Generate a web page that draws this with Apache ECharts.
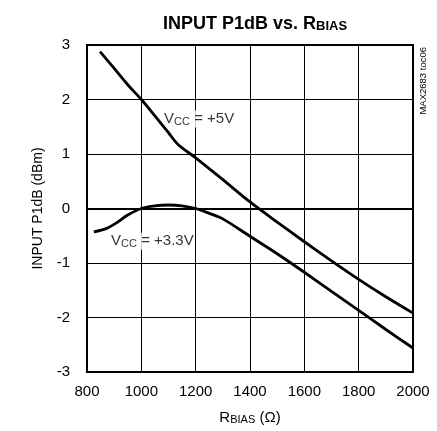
<!DOCTYPE html>
<html><head><meta charset="utf-8">
<script src="https://cdn.jsdelivr.net/npm/echarts@6/dist/echarts.min.js"></script>
<style>html,body{margin:0;padding:0;background:#fff}#c{width:437px;height:431px}</style>
</head><body><div id="c"></div>
<script>
const FONT = "'Liberation Sans',Arial,sans-serif";
const xTicks = [800, 1000, 1200, 1400, 1600, 1800, 2000];
const yTicks = [-3, -2, -1, 0, 1, 2, 3];
const rbias5 = [848, 900, 950, 1000, 1050, 1100, 1136, 1200, 1300, 1400, 1500, 1600, 1700, 1800, 1900, 2000];
const p1db5 = [2.88, 2.57, 2.27, 2.0, 1.70, 1.39, 1.17, 0.93, 0.53, 0.12, -0.25, -0.61, -0.96, -1.30, -1.62, -1.92];
const rbias33 = [825, 870, 910, 950, 1000, 1050, 1100, 1150, 1200, 1250, 1300, 1400, 1500, 1600, 1700, 1800, 1900, 2000];
const p1db33 = [-0.43, -0.37, -0.26, -0.12, 0.0, 0.05, 0.064, 0.05, 0.0, -0.09, -0.19, -0.51, -0.83, -1.17, -1.52, -1.87, -2.22, -2.56];
const curveNames = ['+5V', '+3.3V'];
const labelX = [1080, 885];
const labelY = [1.64, -0.6];

const chart = echarts.init(document.getElementById('c'), null, {renderer: 'canvas'});
const zip = (a, b) => a.map((v, i) => [v, b[i]]);
const richLbl = {
  v: {fontFamily: FONT, fontSize: 15, color: '#000', lineHeight: 17},
  s: {fontFamily: FONT, fontSize: 11, color: '#000', padding: [5, 0, 0, 0], lineHeight: 17}
};
chart.setOption({
  animation: false,
  backgroundColor: '#fff',
  title: {
    text: '{a|INPUT P1dB vs. R}{b|BIAS}',
    left: 250, top: 9, textAlign: 'center',
    textStyle: {
      rich: {
        a: {fontFamily: FONT, fontSize: 18, fontWeight: 'bold', color: '#000', lineHeight: 20},
        b: {fontFamily: FONT, fontSize: 13, fontWeight: 'bold', color: '#000', padding: [5, 0, 0, 0], lineHeight: 20}
      }
    }
  },
  grid: {left: 87, right: 24, top: 45, bottom: 59, show: true, borderColor: '#000', borderWidth: 2, backgroundColor: 'transparent'},
  xAxis: {
    type: 'value', min: xTicks[0], max: xTicks[xTicks.length - 1], interval: 200,
    axisLine: {show: true, lineStyle: {color: '#000', width: 2}},
    axisTick: {show: false},
    axisLabel: {fontFamily: FONT, fontSize: 15, color: '#000', margin: 12, formatter: v => String(v)},
    splitLine: {show: true, lineStyle: {color: '#000', width: 1}},
    name: '{v|R}{s|BIAS}{v| (Ω)}', nameLocation: 'middle', nameGap: 37,
    nameTextStyle: {rich: richLbl}
  },
  yAxis: {
    type: 'value', min: yTicks[0], max: yTicks[yTicks.length - 1], interval: 1,
    axisLine: {show: true, lineStyle: {color: '#000', width: 2}},
    axisTick: {show: false},
    axisLabel: {fontFamily: FONT, fontSize: 15, color: '#000', margin: 17, formatter: v => String(v)},
    splitLine: {show: true, lineStyle: {color: '#000', width: 1}},
    name: 'INPUT P1dB (dBm)', nameLocation: 'middle', nameGap: 42,
    nameTextStyle: {fontFamily: FONT, fontSize: 14, color: '#000'}
  },
  graphic: [{
    type: 'text', left: 418, top: 47, rotation: Math.PI / 2,
    style: {text: 'MAX2683 toc06', fontFamily: FONT, fontSize: 9.5, fill: '#000'}
  }],
  series: [
    {type: 'line', data: zip(rbias5, p1db5), smooth: 0.3, showSymbol: false, lineStyle: {color: '#000', width: 2.8}, z: 5},
    {type: 'line', data: zip(rbias33, p1db33), smooth: 0.3, showSymbol: false, lineStyle: {color: '#000', width: 2.8}, z: 5},
    {
      type: 'scatter', symbolSize: 0, z: 3,
      data: labelX.map((x, i) => ({value: [x, labelY[i]], name: curveNames[i]})),
      label: {
        show: true, position: 'right', distance: 0,
        backgroundColor: '#fff', padding: [0, 1, 0, 1],
        formatter: p => '{v|V}{s|CC}{v| = ' + p.name + '}',
        rich: richLbl
      }
    }
  ]
});
</script></body></html>
